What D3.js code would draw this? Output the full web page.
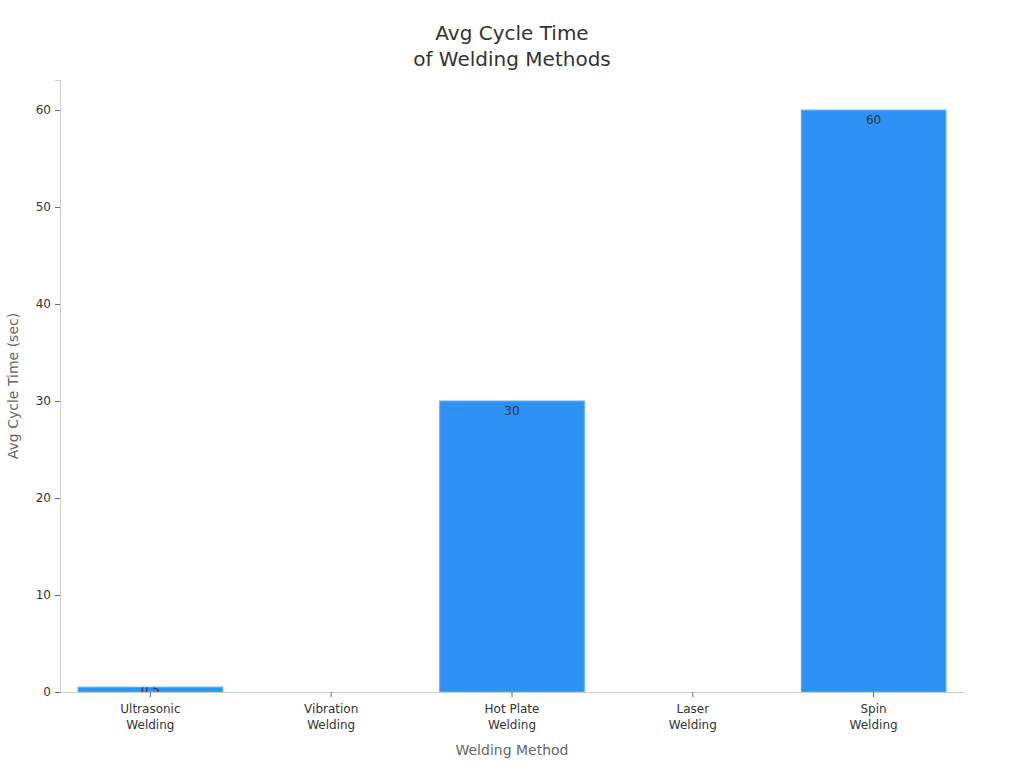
<!DOCTYPE html>
<html>
<head>
<meta charset="utf-8">
<script src="https://cdn.jsdelivr.net/npm/d3@7"></script>
<style>
  body { margin: 0; background: #fff; }
  text { font-family: "DejaVu Sans", sans-serif; }
</style>
</head>
<body>
<div id="chartContainer"></div>
<script>
// Data
const categories = ['Ultrasonic\nWelding', 'Vibration\nWelding', 'Hot Plate\nWelding', 'Laser\nWelding', 'Spin\nWelding'];
const cycleTimes = [0.5, 0, 30, 0, 60];
const barLabels = ['0.5', '', '30', '', '60'];
const yTicks = [0, 10, 20, 30, 40, 50, 60];

// Dimensions and margins
const margin = { top: 80, right: 60, bottom: 76, left: 60 };
const width = 1024 - margin.left - margin.right;
const height = 768 - margin.top - margin.bottom;

// Scales
const x = d3.scaleBand().domain(categories).range([0, width]).paddingInner(0.2).paddingOuter(0.1);
const y = d3.scaleLinear().domain([0, 63.1]).range([height, 0]);

const svg = d3.select('#chartContainer')
    .append('svg')
    .attr('width', 1024)
    .attr('height', 768);

// Title
svg.append('text')
    .attr('text-anchor', 'middle')
    .attr('font-size', 20)
    .attr('fill', '#333')
    .selectAll('tspan')
    .data(['Avg Cycle Time', 'of Welding Methods'])
    .join('tspan')
    .attr('x', 512)
    .attr('y', (d, i) => 40 + i * 26)
    .text(d => d);

const g = svg.append('g')
    .attr('transform', `translate(${margin.left},${margin.top})`);

// Bars
const defs = svg.append('defs');
categories.forEach((c, i) => {
    defs.append('clipPath').attr('id', 'clip' + i)
        .append('rect')
        .attr('x', x(c))
        .attr('y', y(cycleTimes[i]))
        .attr('width', x.bandwidth())
        .attr('height', height - y(cycleTimes[i]));
});

g.selectAll('.bar')
    .data(categories)
    .join('rect')
    .attr('class', 'bar')
    .attr('x', d => x(d))
    .attr('y', (d, i) => y(cycleTimes[i]))
    .attr('width', x.bandwidth())
    .attr('height', (d, i) => height - y(cycleTimes[i]))
    .attr('fill', '#2E91F6')
    .attr('stroke', '#62abf7')
    .attr('stroke-width', 1);

// Value labels near the top of each bar, clipped to the bar
g.selectAll('.label')
    .data(categories)
    .join('text')
    .attr('class', 'label')
    .attr('clip-path', (d, i) => `url(#clip${i})`)
    .attr('x', d => x(d) + x.bandwidth() / 2)
    .attr('y', (d, i) => Math.min(y(cycleTimes[i]) + 10, (y(cycleTimes[i]) + height) / 2))
    .attr('dominant-baseline', 'central')
    .attr('text-anchor', 'middle')
    .attr('font-size', 12)
    .attr('fill', '#333')
    .text((d, i) => barLabels[i]);

// Y axis
const yAxis = g.append('g')
    .call(d3.axisLeft(y).tickValues(yTicks).tickSize(5).tickPadding(4));
yAxis.select('.domain').attr('stroke', '#ccc');
yAxis.selectAll('.tick line').attr('stroke', '#666');
yAxis.selectAll('.tick text').attr('font-size', 12).attr('fill', '#333')
    .attr('font-family', '"DejaVu Sans", sans-serif');

// X axis
const xAxis = g.append('g')
    .attr('transform', `translate(0,${height})`)
    .call(d3.axisBottom(x).tickSize(5).tickSizeOuter(0).tickPadding(7));
xAxis.select('.domain').attr('stroke', '#ccc');
xAxis.selectAll('.tick line').attr('stroke', '#666');
xAxis.selectAll('.tick text').attr('font-size', 12).attr('fill', '#333')
    .attr('font-family', '"DejaVu Sans", sans-serif')
    .each(function (d) {
        const t = d3.select(this);
        const lines = d.split('\n');
        t.text(null);
        lines.forEach((l, i) => {
            t.append('tspan').attr('x', 0).attr('dy', i === 0 ? '0.71em' : '1.35em').text(l);
        });
    });

// Axis titles
svg.append('text')
    .attr('x', margin.left + width / 2)
    .attr('y', 755)
    .attr('text-anchor', 'middle')
    .attr('font-size', 14)
    .attr('fill', '#666')
    .text('Welding Method');

svg.append('text')
    .attr('transform', `translate(18,${margin.top + height / 2}) rotate(-90)`)
    .attr('text-anchor', 'middle')
    .attr('font-size', 14)
    .attr('fill', '#666')
    .text('Avg Cycle Time (sec)');
</script>
</body>
</html>
